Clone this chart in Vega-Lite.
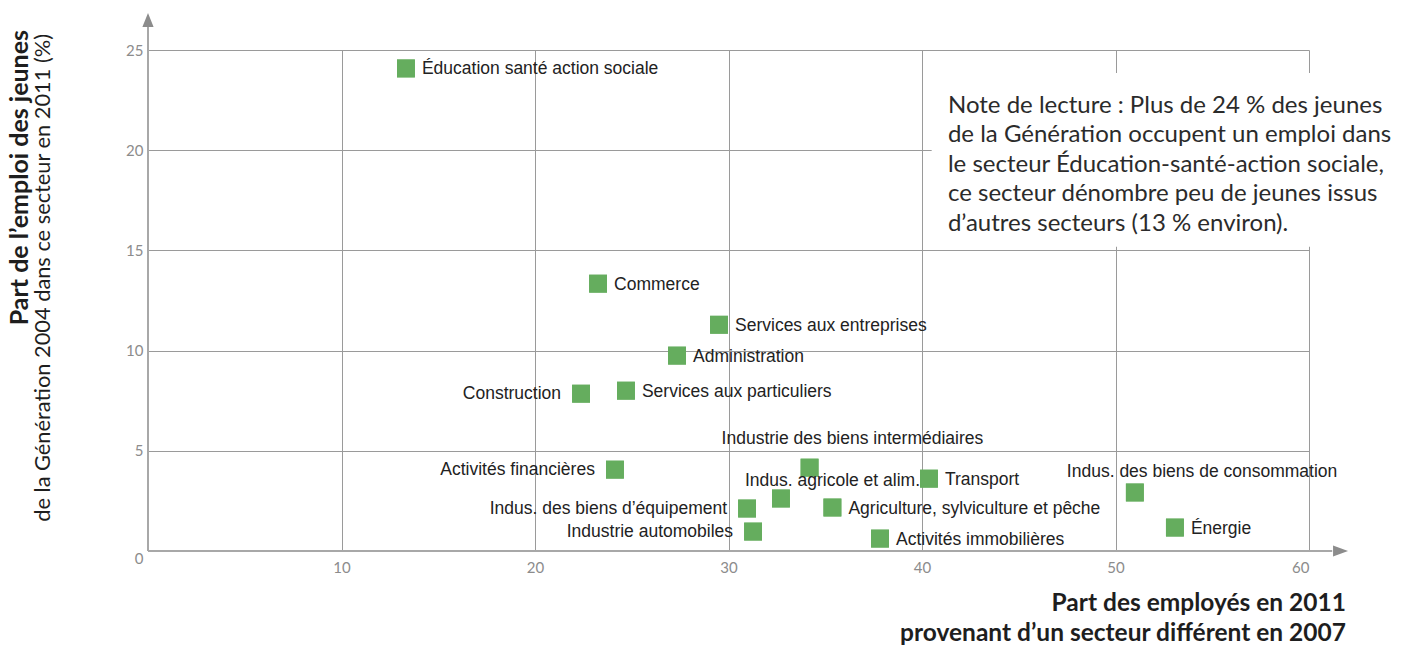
{
  "$schema": "https://vega.github.io/schema/vega-lite/v6.json",
  "width": 1161,
  "height": 501,
  "autosize": {"type": "none"},
  "padding": {"left": 148, "top": 50, "right": 107, "bottom": 95},
  "background": "white",
  "config": {"view": {"stroke": null}},
  "datasets": {
    "secteurs": [
      {"secteur": "Éducation santé action sociale", "x": 13.33, "y": 24.08},
      {"secteur": "Commerce", "x": 23.26, "y": 13.34},
      {"secteur": "Services aux entreprises", "x": 29.51, "y": 11.29},
      {"secteur": "Administration", "x": 27.34, "y": 9.75},
      {"secteur": "Construction", "x": 22.38, "y": 7.85},
      {"secteur": "Services aux particuliers", "x": 24.7, "y": 8.0},
      {"secteur": "Activités financières", "x": 24.13, "y": 4.06},
      {"secteur": "Industrie des biens intermédiaires", "x": 34.19, "y": 4.16},
      {"secteur": "Indus. agricole et alim.", "x": 32.71, "y": 2.62},
      {"secteur": "Transport", "x": 40.36, "y": 3.61},
      {"secteur": "Indus. des biens de consommation", "x": 51.0, "y": 2.92},
      {"secteur": "Indus. des biens d’équipement", "x": 30.96, "y": 2.12},
      {"secteur": "Agriculture, sylviculture et pêche", "x": 35.37, "y": 2.17},
      {"secteur": "Industrie automobiles", "x": 31.27, "y": 0.97},
      {"secteur": "Activités immobilières", "x": 37.83, "y": 0.62},
      {"secteur": "Énergie", "x": 53.07, "y": 1.17}
    ]
  },
  "data": {"name": "secteurs"},
  "layer": [
    {
      "mark": {"type": "square", "size": 320, "color": "#65ad5e", "opacity": 1},
      "encoding": {
        "x": {
          "field": "x", "type": "quantitative",
          "scale": {"domain": [0, 60], "nice": false, "zero": false},
          "axis": {
            "title": null, "values": [10, 20, 30, 40, 50, 60], "domain": false, "ticks": false,
            "grid": true, "gridColor": "#9a9a9a", "gridWidth": 1, "gridOpacity": 1,
            "labelFont": "Lato", "labelFontSize": 15, "labelColor": "#8c8c8c", "labelPadding": 9
          }
        },
        "y": {
          "field": "y", "type": "quantitative",
          "scale": {"domain": [0, 25], "nice": false, "zero": false},
          "axis": {
            "title": null, "values": [0, 5, 10, 15, 20, 25], "domain": false, "ticks": false,
            "grid": true, "gridColor": "#9a9a9a", "gridWidth": 1, "gridOpacity": 1,
            "labelFont": "Lato", "labelFontSize": 15, "labelColor": "#8c8c8c", "labelPadding": 5,
            "labelBaseline": {"condition": {"test": "datum.value == 0", "value": "top"}, "value": "middle"}
          }
        }
      }
    },
    {
      "data": {"values": [{}]},
      "mark": {"type": "rect", "color": "white", "opacity": 1},
      "encoding": {
        "x": {"datum": 40.5, "type": "quantitative"},
        "x2": {"datum": 61},
        "y": {"datum": 23.85, "type": "quantitative"},
        "y2": {"datum": 15.18}
      }
    },
    {
      "data": {"values": [{}]},
      "mark": {"type": "rule", "color": "#a8a8a8", "strokeWidth": 2},
      "encoding": {
        "x": {"datum": 0, "type": "quantitative"},
        "x2": {"datum": 61.2},
        "y": {"datum": 0, "type": "quantitative"}
      }
    },
    {
      "data": {"values": [{}]},
      "mark": {"type": "rule", "color": "#a8a8a8", "strokeWidth": 2},
      "encoding": {
        "x": {"datum": 0, "type": "quantitative"},
        "y": {"datum": 0, "type": "quantitative"},
        "y2": {"datum": 26.3}
      }
    },
    {
      "data": {"values": [{}]},
      "mark": {"type": "point", "shape": "M-0.8,1L0,-1L0.8,1Z", "size": 196, "filled": true, "color": "#8c8c8c", "opacity": 1},
      "encoding": {
        "x": {"datum": 0, "type": "quantitative"},
        "y": {"datum": 26.5, "type": "quantitative"}
      }
    },
    {
      "data": {"values": [{}]},
      "mark": {"type": "point", "shape": "M-1,-0.73L1,0L-1,0.73Z", "size": 225, "filled": true, "color": "#8c8c8c", "opacity": 1},
      "encoding": {
        "x": {"datum": 61.63, "type": "quantitative"},
        "y": {"datum": 0, "type": "quantitative"}
      }
    },
    {
      "mark": {"type": "square", "size": 320, "color": "#65ad5e", "opacity": 1},
      "encoding": {
        "x": {"field": "x", "type": "quantitative"},
        "y": {"field": "y", "type": "quantitative"}
      }
    },
    {
      "transform": [{"filter": {"field": "secteur", "oneOf": ["Éducation santé action sociale", "Commerce", "Services aux entreprises", "Administration", "Services aux particuliers", "Transport", "Agriculture, sylviculture et pêche", "Activités immobilières", "Énergie"]}}],
      "mark": {"type": "text", "align": "left", "baseline": "middle", "dx": 16, "dy": 1, "font": "Liberation Sans", "fontSize": 17.5, "color": "#222222"},
      "encoding": {
        "x": {"field": "x", "type": "quantitative"},
        "y": {"field": "y", "type": "quantitative"},
        "text": {"field": "secteur"}
      }
    },
    {
      "transform": [{"filter": {"field": "secteur", "oneOf": ["Construction", "Activités financières", "Indus. des biens d’équipement", "Industrie automobiles"]}}],
      "mark": {"type": "text", "align": "right", "baseline": "middle", "dx": -20, "dy": 0, "font": "Liberation Sans", "fontSize": 17.5, "color": "#222222"},
      "encoding": {
        "x": {"field": "x", "type": "quantitative"},
        "y": {"field": "y", "type": "quantitative"},
        "text": {"field": "secteur"}
      }
    },
    {
      "transform": [{"filter": {"field": "secteur", "equal": "Industrie des biens intermédiaires"}}],
      "mark": {"type": "text", "align": "left", "baseline": "middle", "dx": -88, "dy": -29, "font": "Liberation Sans", "fontSize": 17.5, "color": "#222222"},
      "encoding": {
        "x": {"field": "x", "type": "quantitative"},
        "y": {"field": "y", "type": "quantitative"},
        "text": {"field": "secteur"}
      }
    },
    {
      "transform": [{"filter": {"field": "secteur", "equal": "Indus. agricole et alim."}}],
      "mark": {"type": "text", "align": "left", "baseline": "middle", "dx": -36, "dy": -17, "font": "Liberation Sans", "fontSize": 17.5, "color": "#222222"},
      "encoding": {
        "x": {"field": "x", "type": "quantitative"},
        "y": {"field": "y", "type": "quantitative"},
        "text": {"field": "secteur"}
      }
    },
    {
      "transform": [{"filter": {"field": "secteur", "equal": "Indus. des biens de consommation"}}],
      "mark": {"type": "text", "align": "left", "baseline": "middle", "dx": -68, "dy": -20, "font": "Liberation Sans", "fontSize": 17.5, "color": "#222222"},
      "encoding": {
        "x": {"field": "x", "type": "quantitative"},
        "y": {"field": "y", "type": "quantitative"},
        "text": {"field": "secteur"}
      }
    },
    {
      "data": {"values": [{"note": "Note de lecture : Plus de 24 % des jeunes\nde la Génération occupent un emploi dans\nle secteur Éducation-santé-action sociale,\nce secteur dénombre peu de jeunes issus\nd’autres secteurs (13 % environ)."}]},
      "mark": {"type": "text", "align": "left", "baseline": "alphabetic", "lineBreak": "\n", "lineHeight": 29.5, "font": "Lato", "fontSize": 24, "color": "#2b2b2b"},
      "encoding": {
        "x": {"datum": 41.34, "type": "quantitative"},
        "y": {"datum": 21.86, "type": "quantitative"},
        "text": {"field": "note"}
      }
    },
    {
      "data": {"values": [{"t": "Part des employés en 2011\nprovenant d’un secteur différent en 2007"}]},
      "mark": {"type": "text", "align": "right", "baseline": "alphabetic", "lineBreak": "\n", "lineHeight": 30, "font": "Lato", "fontSize": 24.5, "fontWeight": "bold", "color": "#1e1e1e"},
      "encoding": {
        "x": {"datum": 61.91, "type": "quantitative"},
        "y": {"datum": -3.0, "type": "quantitative"},
        "text": {"field": "t"}
      }
    },
    {
      "data": {"values": [{"t": "Part de l’emploi des jeunes"}]},
      "mark": {"type": "text", "align": "right", "baseline": "middle", "angle": 270, "font": "Lato", "fontSize": 25, "fontWeight": "bold", "color": "#1e1e1e"},
      "encoding": {
        "x": {"datum": -6.61, "type": "quantitative"},
        "y": {"datum": 26.0, "type": "quantitative"},
        "text": {"field": "t"}
      }
    },
    {
      "data": {"values": [{"t": "de la Génération 2004 dans ce secteur en 2011 (%)"}]},
      "mark": {"type": "text", "align": "right", "baseline": "middle", "angle": 270, "font": "Lato", "fontSize": 21.8, "color": "#1e1e1e"},
      "encoding": {
        "x": {"datum": -5.43, "type": "quantitative"},
        "y": {"datum": 25.8, "type": "quantitative"},
        "text": {"field": "t"}
      }
    }
  ]
}
